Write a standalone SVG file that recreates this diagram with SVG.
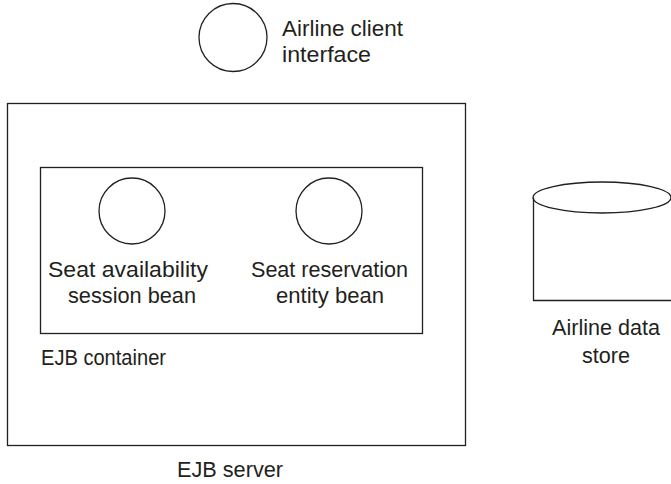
<svg xmlns="http://www.w3.org/2000/svg" width="671" height="484" viewBox="0 0 671 484">
<style>
.s{fill:none;stroke:#231f20;stroke-width:1.3}
.t{font-family:"Liberation Sans Narrow","Liberation Sans",Arial,sans-serif;font-size:22px;fill:#231f20}
</style>
<rect width="671" height="484" fill="#fff"/>
<g id="ejb-server">
<rect class="s" x="7.5" y="103.5" width="458" height="342"/>
<text class="t" x="177" y="477" textLength="106" lengthAdjust="spacingAndGlyphs">EJB server</text>
</g>
<g id="ejb-container">
<rect class="s" x="40.5" y="167.5" width="382" height="166"/>
<text class="t" x="41" y="365" textLength="125" lengthAdjust="spacingAndGlyphs">EJB container</text>
</g>
<g id="client-interface">
<circle class="s" cx="233" cy="37.5" r="34"/>
<text class="t" x="282" y="36" textLength="121" lengthAdjust="spacingAndGlyphs">Airline client</text>
<text class="t" x="282" y="62" textLength="89" lengthAdjust="spacingAndGlyphs">interface</text>
</g>
<g id="session-bean">
<circle class="s" cx="132" cy="211" r="33"/>
<text class="t" x="48" y="277" textLength="160" lengthAdjust="spacingAndGlyphs">Seat availability</text>
<text class="t" x="68" y="303" textLength="128" lengthAdjust="spacingAndGlyphs">session bean</text>
</g>
<g id="entity-bean">
<circle class="s" cx="329" cy="211" r="33"/>
<text class="t" x="251" y="277" textLength="157" lengthAdjust="spacingAndGlyphs">Seat reservation</text>
<text class="t" x="276" y="303" textLength="108" lengthAdjust="spacingAndGlyphs">entity bean</text>
</g>
<g id="data-store">
<path class="s" d="M533.5,197.5 V300.5 H672"/>
<ellipse class="s" cx="602" cy="197.5" rx="69" ry="15.5"/>
<text class="t" x="552" y="335" textLength="108" lengthAdjust="spacingAndGlyphs">Airline data</text>
<text class="t" x="582" y="363" textLength="48" lengthAdjust="spacingAndGlyphs">store</text>
</g>
<g id="connectors"></g>
</svg>
